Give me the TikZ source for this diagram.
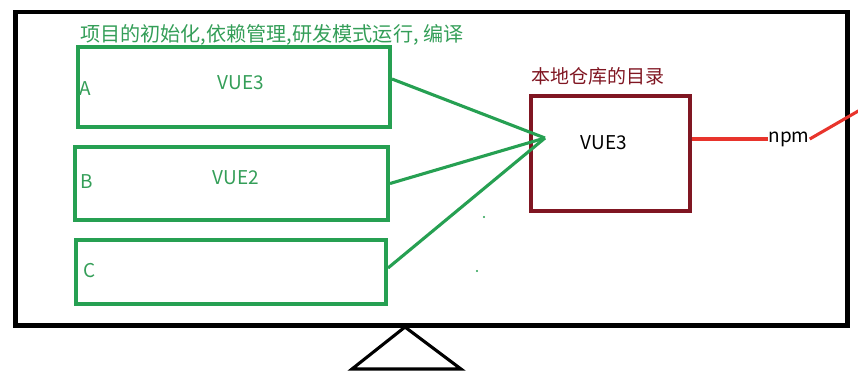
\documentclass[tikz,border=0pt]{standalone}
\usepackage{fontspec}
\setmainfont{Noto Sans CJK SC}
\definecolor{boxgreen}{RGB}{38,160,82}
\definecolor{textgreen}{RGB}{52,158,88}
\definecolor{repored}{RGB}{128,22,34}
\definecolor{npmred}{RGB}{232,52,44}

\begin{document}
\begin{tikzpicture}[x=0.025cm, y=-0.025cm,
  projbox/.style={draw=boxgreen, line width=2.8pt, minimum width=7.8cm},
  repobox/.style={draw=repored, line width=2.8pt, minimum width=3.975cm, minimum height=2.875cm},
  greentext/.style={text=textgreen, font=\fontsize{13.5}{16}\selectfont},
  plaintext/.style={font=\fontsize{13.5}{16}\selectfont, inner sep=0pt}]
\useasboundingbox (0,0) rectangle (858,378);
\node[draw, line width=3.5pt, minimum width=20.775cm, minimum height=7.825cm] (screen) at (431.5,168.5) {};
\coordinate (apex) at (405,327);
\coordinate (footl) at (352,369);
\coordinate (footr) at (461,369);
\draw[line width=2.2pt, line join=miter] (apex) -- (footl) -- (footr) -- cycle;
\node[greentext, anchor=west, inner sep=0pt, font=\fontsize{14.3}{17}\selectfont] (title) at (80,35) {项目的初始化,依赖管理,研发模式运行, 编译};
\node[projbox, minimum height=2cm] (boxA) at (234,87) {};
\node[projbox, minimum width=7.825cm, minimum height=1.825cm] (boxB) at (231.5,183.5) {};
\node[projbox, minimum width=7.75cm, minimum height=1.6cm] (boxC) at (231,272) {};
\node[greentext, anchor=west, inner sep=0pt] (labA) at (79,89) {A};
\node[greentext, anchor=west, inner sep=0pt] (labB) at (80,182) {B};
\node[greentext, anchor=west, inner sep=0pt] (labC) at (83,271) {C};
\node[greentext, inner sep=0pt] (verA) at (241,83) {VUE3};
\node[greentext, inner sep=0pt] (verB) at (236,178) {VUE2};
\node[repobox] (repo) at (610.5,153.5) {};
\node[anchor=west, inner sep=0pt, text=repored, font=\fontsize{13.5}{16}\selectfont] (repotitle) at (531,76) {本地仓库的目录};
\node[plaintext] (repover) at (604,143) {VUE3};
\coordinate (tip) at (545,138);
\draw[boxgreen, line width=2.2pt] ([yshift=0.2cm]boxA.east) -- (tip);
\draw[boxgreen, line width=2.2pt] (boxB.east) -- (tip);
\draw[boxgreen, line width=2.2pt] ([yshift=0.1cm]boxC.east) -- (tip);
\fill[boxgreen] (484,217) circle (1.2);
\fill[boxgreen] (477,271) circle (1.2);
\node[plaintext] (npm) at (789,139) {npm};
\coordinate (offpage) at (860,110);
\draw[npmred, line width=2.2pt] (repo.east |- npm.west) -- (npm.west);
\draw[npmred, line width=2.2pt] (npm.east) -- (offpage);
\end{tikzpicture}
\end{document}
